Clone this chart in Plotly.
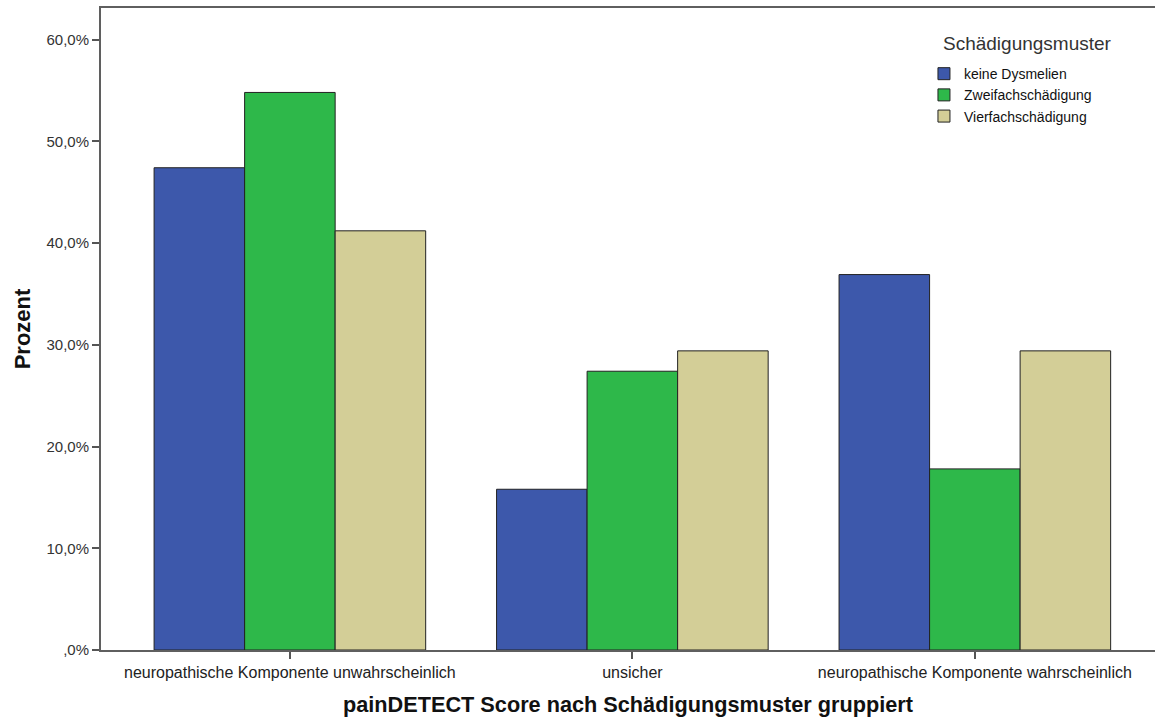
import plotly.graph_objects as go

categories = ["neuropathische Komponente unwahrscheinlich", "unsicher",
              "neuropathische Komponente wahrscheinlich"]
series_names = ["keine Dysmelien", "Zweifachschädigung", "Vierfachschädigung"]
keine_dysmelien = [47.4, 15.8, 36.9]
zweifach = [54.8, 27.4, 17.8]
vierfach = [41.2, 29.4, 29.4]
colors = ["#3D58AB", "#2EB84A", "#D3CE97"]
y_tickvals = [0, 10, 20, 30, 40, 50, 60]
y_ticktext = [",0%", "10,0%", "20,0%", "30,0%", "40,0%", "50,0%", "60,0%"]
legend_title = "Schädigungsmuster"

FONT = "Liberation Sans, Arial, sans-serif"

fig = go.Figure()
for name, vals, col in zip(series_names, [keine_dysmelien, zweifach, vierfach], colors):
    fig.add_trace(go.Bar(
        x=categories, y=vals, name=name,
        marker=dict(color=col, line=dict(color="#222222", width=1)),
    ))

fig.update_layout(
    width=1155, height=717,
    margin=dict(l=101, r=0, t=8, b=67),
    paper_bgcolor="white", plot_bgcolor="white",
    barmode="group", bargap=0.207, bargroupgap=0,
    font=dict(family=FONT, color="#222222"),
    legend=dict(
        font=dict(size=14, family=FONT, color="#111111"),
        x=0.7808, y=0.922, xanchor="left", yanchor="top",
        bgcolor="rgba(0,0,0,0)", itemwidth=30, tracegroupgap=0,
    ),
    annotations=[dict(
        text=legend_title, xref="paper", yref="paper",
        x=0.797, y=0.944, xanchor="left", yanchor="middle",
        showarrow=False, font=dict(size=19, family=FONT, color="#333333"),
    )],
)
fig.update_xaxes(
    range=[-0.5515, 2.526],
    showline=True, linecolor="#5f5f5f", linewidth=2, mirror=True,
    ticks="outside", ticklen=7, tickwidth=2, tickcolor="#555555",
    tickfont=dict(size=16, family=FONT, color="#222222"),
    showgrid=False, automargin=False,
    title=dict(text="<b>painDETECT Score nach Schädigungsmuster gruppiert</b>",
               font=dict(size=21.7, family=FONT, color="#111111"), standoff=18),
)
fig.update_yaxes(
    range=[0, 63.1],
    tickvals=y_tickvals, ticktext=y_ticktext,
    showline=True, linecolor="#5f5f5f", linewidth=2, mirror=False,
    ticks="outside", ticklen=7, tickwidth=2, tickcolor="#555555",
    tickfont=dict(size=15, family=FONT, color="#333333"),
    showgrid=False, zeroline=False, automargin=False,
    title=dict(text="<b>Prozent</b>", font=dict(size=22, family=FONT, color="#111111"), standoff=10),
)

fig.write_html(
    "out.html",
    config={"displayModeBar": False},
    post_script="document.body.style.margin='0';document.body.style.overflow='hidden';",
)
